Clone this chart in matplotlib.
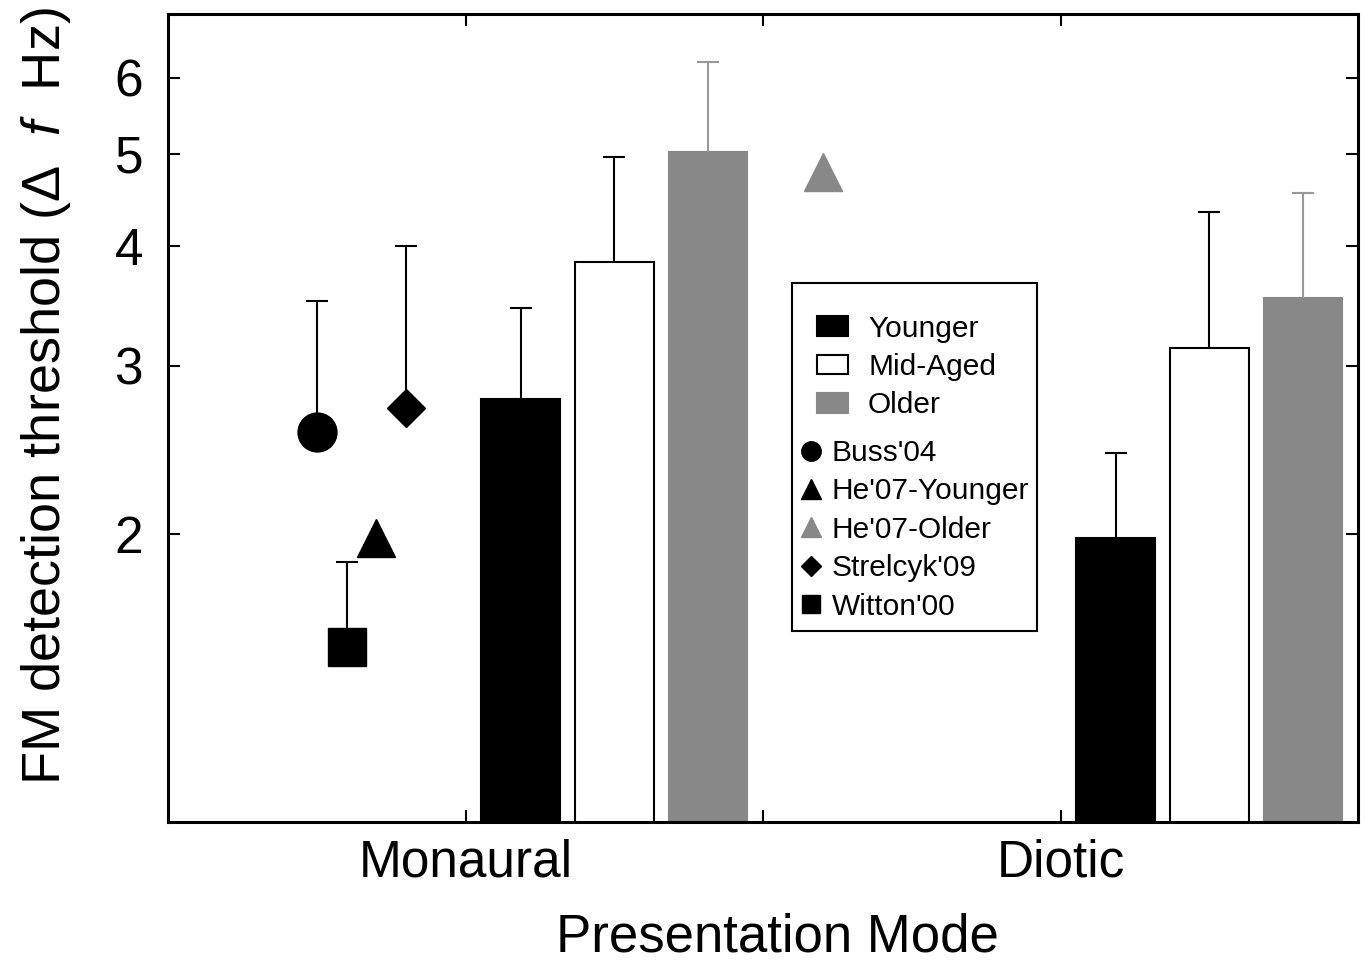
import numpy as np
import matplotlib
matplotlib.use('Agg')
import matplotlib.pyplot as plt
from matplotlib.lines import Line2D
from matplotlib.patches import Patch, Rectangle
from matplotlib.ticker import NullLocator

plt.rcParams['font.family'] = ['Liberation Sans', 'DejaVu Sans']
plt.rcParams['mathtext.fontset'] = 'custom'
plt.rcParams['mathtext.rm'] = 'Liberation Sans'
plt.rcParams['mathtext.it'] = 'Liberation Sans:italic'

# Data
modes = ['Monaural', 'Diotic']
groups = ['Younger', 'Mid-Aged', 'Older']
younger_mean = [2.77, 1.98]
younger_upper = [3.45, 2.43]
mid_mean = [3.85, 3.13]
mid_upper = [4.96, 4.34]
older_mean = [5.02, 3.53]
older_upper = [6.24, 4.55]

studies = ["Buss'04", "He'07-Younger", "He'07-Older", "Strelcyk'09", "Witton'00"]
study_pos = [0.5, 0.7, 2.2, 0.8, 0.6]
study_val = [2.56, 1.98, 4.79, 2.71, 1.525]
study_upper = [3.51, None, None, 4.0, 1.87]

fig = plt.figure(figsize=(13.65, 9.64), dpi=100)
ax = fig.add_axes([0.1231, 0.1473, 0.8718, 0.8382])
ax.set_yscale('log')

mode_pos = np.array([1.0, 3.0])
offsets = [-0.315, 0.0, 0.315]
width = 0.265
bar_styles = [('black', 'black', 'black'),
              ('white', 'black', 'black'),
              ('#888888', '#888888', '#999999')]
means = [younger_mean, mid_mean, older_mean]
uppers = [younger_upper, mid_upper, older_upper]

for i in range(3):
    face, edge, ecol = bar_styles[i]
    x = mode_pos + 0.5 + offsets[i]
    m = np.array(means[i])
    u = np.array(uppers[i])
    ax.bar(x, m, width, color=face, edgecolor=edge, linewidth=1.5, zorder=2)
    eb = ax.errorbar(x, m, yerr=[np.zeros_like(m), u - m], fmt='none', ecolor=ecol,
                     elinewidth=1.5, capsize=8, capthick=1.5, zorder=3)
    eb.lines[1][0].set_visible(False)

markers = ['o', '^', '^', 'D', 's']
msizes = [28, 28, 28, 19.8, 28]
mcolors = ['black', 'black', '#888888', 'black', 'black']
for i in range(len(studies)):
    if study_upper[i] is not None:
        eb = ax.errorbar([study_pos[i]], [study_val[i]],
                         yerr=[[0], [study_upper[i] - study_val[i]]], fmt='none',
                         ecolor='black', elinewidth=1.5, capsize=8, capthick=1.5, zorder=3)
        eb.lines[1][0].set_visible(False)
    ax.plot([study_pos[i]], [study_val[i]], marker=markers[i], ms=msizes[i],
            color=mcolors[i], ls='none', zorder=4)

ax.set_xlim(0, 4)
ax.set_ylim(1, 7)
ax.set_xticks([1, 2, 3])
ax.set_xticklabels([modes[0], '', modes[1]])
ax.set_yticks([2, 3, 4, 5, 6])
ax.set_yticklabels(['2', '3', '4', '5', '6'])
ax.yaxis.set_minor_locator(NullLocator())
ax.tick_params(direction='in', length=8.5, width=1.5, top=True, right=True, labelsize=37)
ax.tick_params(axis='y', pad=18)
ax.tick_params(axis='x', pad=12)
for s in ax.spines.values():
    s.set_linewidth(2.2)

ax.set_xlabel('Presentation Mode', fontsize=38, labelpad=18)
ax.xaxis.label.set_x(0.512)
ax.set_ylabel('FM detection threshold (Δ  $f$  Hz)', fontsize=39, labelpad=30)
ax.yaxis.label.set_y(0.527)

# legend box
ax.add_patch(Rectangle((0.5244, 0.2364), 0.2059, 0.4307, transform=ax.transAxes,
                       facecolor='white', edgecolor='black', lw=1.5, zorder=5))
bar_handles = [Patch(facecolor=f, edgecolor=e, lw=1.5) for f, e, _ in bar_styles]
leg1 = ax.legend(bar_handles, groups, loc='upper left', bbox_to_anchor=(0.5454, 0.628),
                 frameon=False, fontsize=21.5, handlelength=1.04, handleheight=0.64,
                 handletextpad=0.67, labelspacing=0.35, borderpad=0, borderaxespad=0)
leg1.set_zorder(6)
ax.add_artist(leg1)
pt_sizes = [14, 14, 14, 9.8, 13]
pt_handles = [Line2D([], [], marker=markers[i], ms=pt_sizes[i], color=mcolors[i], ls='none')
              for i in range(len(studies))]
leg2 = ax.legend(pt_handles, studies, loc='upper left', bbox_to_anchor=(0.5328, 0.474),
                 frameon=False, fontsize=21.5, handlelength=0.6, handletextpad=0.4,
                 labelspacing=0.35, borderpad=0, borderaxespad=0)
leg2.set_zorder(6)

fig.savefig('out.png', dpi=100)
